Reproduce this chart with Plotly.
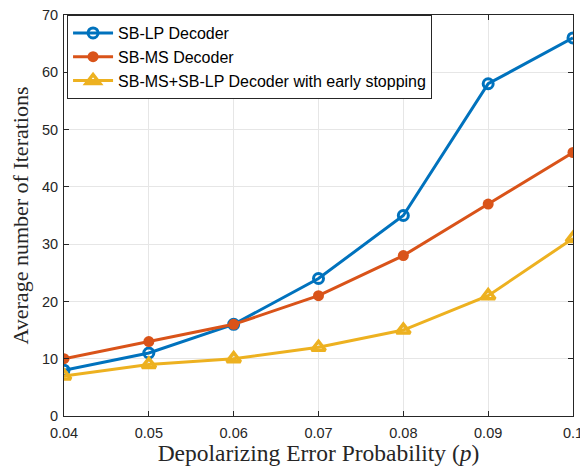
import plotly.graph_objects as go

p = [0.04, 0.05, 0.06, 0.07, 0.08, 0.09, 0.10]
sb_lp = [8, 11, 16, 24, 35, 58, 66]
sb_ms = [10, 13, 16, 21, 28, 37, 46]
early = [7, 9, 10, 12, 15, 21, 31]
x_ticks = [0.04, 0.05, 0.06, 0.07, 0.08, 0.09, 0.1]
x_tick_text = ["0.04", "0.05", "0.06", "0.07", "0.08", "0.09", "0.1"]
y_ticks = [0, 10, 20, 30, 40, 50, 60, 70]

fig = go.Figure()
fig.add_trace(go.Scatter(x=p, y=sb_lp, mode="lines+markers", name="SB-LP Decoder",
                         line=dict(color="#0072BD", width=3),
                         marker=dict(symbol="circle-open", size=10, color="#0072BD", line=dict(width=3))))
fig.add_trace(go.Scatter(x=p, y=sb_ms, mode="lines+markers", name="SB-MS Decoder",
                         line=dict(color="#D95319", width=3),
                         marker=dict(symbol="circle", size=11, color="#D95319")))
fig.add_trace(go.Scatter(x=p, y=early, mode="lines+markers", name="SB-MS+SB-LP Decoder with early stopping",
                         line=dict(color="#EDB120", width=3),
                         marker=dict(symbol="triangle-up-open", size=12, color="#EDB120", line=dict(width=3.5))))

axis_common = dict(showline=True, linecolor="#262626", linewidth=1, mirror="ticks",
                   ticks="inside", ticklen=5, tickcolor="#262626", automargin=False,
                   ticklabeloverflow="allow",
                   showgrid=True, gridcolor="#E6E6E6", gridwidth=1, zeroline=False,
                   tickfont=dict(family="Liberation Sans, Arial", size=14.5, color="#262626"))

fig.update_layout(
    width=580, height=458,
    margin=dict(l=56, r=15, t=7, b=50),
    paper_bgcolor="white", plot_bgcolor="white",
    xaxis=dict(range=[0.04, 0.1], tickvals=x_ticks, ticktext=x_tick_text, ticklabelstandoff=4,
               title=dict(text="Depolarizing Error Probability (<i>p</i>)", standoff=8,
                          font=dict(family="Liberation Serif, Times New Roman, serif", size=23.5, color="#262626")),
               **axis_common),
    yaxis=dict(range=[0, 70], tickvals=y_ticks, ticklabelstandoff=2,
               title=dict(text="Average number of Iterations", standoff=10,
                          font=dict(family="Liberation Serif, Times New Roman, serif", size=22, color="#262626")),
               **axis_common),
    legend=dict(x=0.006, y=1.0, xanchor="left", yanchor="top",
                bgcolor="white", bordercolor="#262626", borderwidth=1,
                font=dict(family="Liberation Sans, Arial", size=16, color="black"),
                itemwidth=40, tracegroupgap=0),
    showlegend=True,
)

fig.write_html("out.html")
